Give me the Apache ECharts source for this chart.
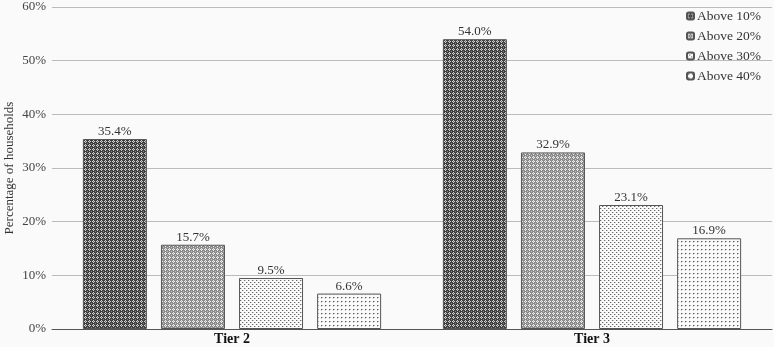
<!DOCTYPE html>
<html><head><meta charset="utf-8">
<script src="https://cdn.jsdelivr.net/npm/echarts@6/dist/echarts.min.js"></script>
<style>html,body{margin:0;padding:0;background:#fafafa;}#c{width:774px;height:347px;}</style>
</head><body><div id="c"></div>
<script>
var categories = ['Tier 2', 'Tier 3'];
var seriesNames = ['Above 10%', 'Above 20%', 'Above 30%', 'Above 40%'];
var above10 = [35.4, 54.0];
var above20 = [15.7, 32.9];
var above30 = [9.5, 23.1];
var above40 = [6.6, 16.9];
var yTicks = [0, 10, 20, 30, 40, 50, 60];

function makePattern(bg, dots) {
  var c = document.createElement('canvas');
  c.width = 4; c.height = 4;
  var g = c.getContext('2d');
  g.fillStyle = bg; g.fillRect(0, 0, 4, 4);
  dots.forEach(function (d) { g.fillStyle = d[2]; g.fillRect(d[0], d[1], 1, 1); });
  return { image: c, repeat: 'repeat' };
}
var patterns = [
  makePattern('#3e3e3e', [[1,0,'#d0d0d0'],[0,1,'#d0d0d0'],[2,1,'#d0d0d0'],[1,2,'#d0d0d0'],[1,1,'#707070'],[3,3,'#888888']]),
  makePattern('#8a8a8a', [[1,0,'#eeeeee'],[0,1,'#eeeeee'],[2,1,'#eeeeee'],[1,2,'#eeeeee'],[1,1,'#b0b0b0'],[3,3,'#c0c0c0']]),
  makePattern('#fafafa', [[0,0,'#6a6a6a'],[2,2,'#6a6a6a'],[1,0,'#c8c8c8'],[3,2,'#c8c8c8']]),
  makePattern('#fafafa', [[1,1,'#5a5a5a'],[2,1,'#b0b0b0'],[1,2,'#d0d0d0']])
];
var data = [above10, above20, above30, above40];

var chart = echarts.init(document.getElementById('c'));
chart.setOption({
  backgroundColor: '#fafafa',
  textStyle: { fontFamily: 'Liberation Serif' },
  grid: { left: 52, right: 2, top: 7, bottom: 18, outerBoundsMode: 'none', containLabel: false },
  legend: {
    orient: 'vertical', left: 681, top: 4, itemWidth: 7, itemHeight: 7, itemGap: 6,
    textStyle: { fontSize: 13.5, color: '#333', fontFamily: 'Liberation Serif', padding: [0, 0, 0, -2] },
    data: seriesNames
  },
  xAxis: {
    type: 'category', data: categories,
    axisTick: { show: false },
    axisLine: { lineStyle: { color: '#555', width: 1 } },
    axisLabel: { fontWeight: 'bold', fontSize: 14, color: '#111', margin: 3, fontFamily: 'Liberation Serif' }
  },
  yAxis: {
    type: 'value', min: 0, max: 60, interval: 10,
    name: 'Percentage of households', nameLocation: 'middle', nameGap: 36, nameMoveOverlap: false,
    nameTextStyle: { fontSize: 13, color: '#333', fontFamily: 'Liberation Serif' },
    axisLabel: { formatter: '{value}%', fontSize: 13, color: '#444', margin: 6, fontFamily: 'Liberation Serif' },
    splitLine: { lineStyle: { color: '#bbb' } },
    axisLine: { show: false }, axisTick: { show: false }
  },
  series: seriesNames.map(function (n, i) {
    return {
      name: n, type: 'bar', data: data[i],
      barWidth: 64, barGap: '22%',
      itemStyle: { color: patterns[i], borderColor: '#555', borderWidth: 1 },
      label: { show: true, position: 'top', distance: 1, formatter: function (p) { return p.value.toFixed(1) + '%'; }, fontSize: 13, color: '#333', fontFamily: 'Liberation Serif' }
    };
  })
});
</script></body></html>
